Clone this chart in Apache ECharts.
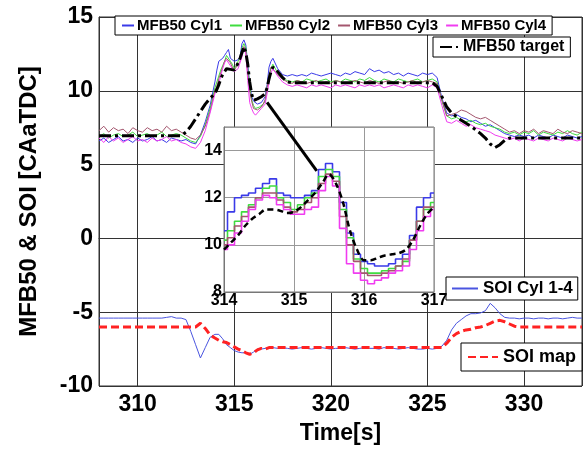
<!DOCTYPE html>
<html><head><meta charset="utf-8">
<script src="https://cdn.jsdelivr.net/npm/echarts@6/dist/echarts.min.js"></script>
<style>html,body{margin:0;padding:0;background:#fff}#c{width:585px;height:450px}</style>
</head><body><div id="c"></div>
<script>
// time stamps [s]
const time = [308,308.25,308.5,308.75,309,309.25,309.5,309.75,310,310.25,310.5,310.75,311,311.25,311.5,311.75,312,312.25,312.5,312.75,313,313.25,313.5,313.75,
314,314.1,314.2,314.3,314.4,314.5,314.6,314.7,314.8,314.9,315,315.1,315.2,315.3,315.4,315.5,315.6,315.7,315.8,315.9,316,316.1,316.2,316.3,316.4,316.5,316.6,316.7,316.8,316.9,317,
317.25,317.5,317.75,318,318.25,318.5,318.75,319,319.25,319.5,319.75,320,320.25,320.5,320.75,321,321.25,321.5,321.75,322,322.25,322.5,322.75,323,323.25,323.5,323.75,324,324.25,324.5,324.75,325,325.25,325.5,325.75,326,326.25,326.5,326.75,327,327.25,327.5,327.75,328,328.25,328.5,328.75,329,329.25,329.5,329.75,330,330.25,330.5,330.75,331,331.25,331.5,331.75,332,332.25,332.5,332.75,333];

const mfb50Cyl1 = [6.6,6.8,6.5,6.7,6.9,6.6,6.7,6.5,6.8,6.6,6.7,6.9,6.6,6.7,6.5,6.8,6.7,6.6,6.7,6.5,6.4,7.0,7.9,9.0,
10.6,11.4,12.0,12.1,12.2,12.4,12.6,12.8,12.2,12.1,12.0,12.0,12.1,12.3,13.2,13.45,13.1,11.8,10.5,9.6,9.3,9.2,9.1,9.1,9.2,9.4,9.6,10.4,11.6,12.0,12.2,
11.5,11.1,11.0,11.1,11.0,11.1,11.0,11.2,11.1,11.0,11.1,11.2,11.1,11.0,11.2,11.1,11.3,11.2,11.1,11.5,11.3,11.4,11.2,11.3,11.1,11.2,11.0,11.2,11.1,11.0,11.2,11.1,11.2,10.9,9.5,8.5,8.3,8.4,8.2,8.1,7.9,8.0,7.8,7.6,7.7,7.5,7.3,7.1,7.0,6.9,7.0,6.9,7.0,6.8,7.0,6.9,6.8,7.0,6.9,6.8,7.0,6.9,6.8,6.9];

const mfb50Cyl2 = [6.9,7.1,6.8,7.0,7.1,6.9,7.0,7.2,6.9,7.0,7.1,6.9,7.0,7.2,6.9,7.0,7.1,7.0,6.8,6.6,6.5,6.9,7.7,8.8,
10.2,10.6,11.0,11.4,11.7,12.0,12.4,12.5,12.0,11.8,11.5,11.7,12.0,12.2,12.9,13.2,12.9,11.5,10.3,9.4,9.0,8.8,8.8,8.9,9.0,9.1,9.3,10.2,11.0,11.5,11.8,
11.2,10.8,10.7,10.6,10.7,10.6,10.8,10.7,10.6,10.7,10.8,10.6,10.7,10.6,10.8,10.7,10.6,10.8,10.7,10.9,10.7,10.6,10.8,10.7,10.6,10.8,10.7,10.6,10.7,10.8,10.6,10.7,10.8,10.6,9.3,8.3,8.1,8.2,8.0,7.9,8.0,7.8,7.7,7.8,7.6,7.5,7.4,7.2,7.1,7.2,7.0,7.2,7.1,7.3,7.0,7.2,7.1,7.0,7.2,7.1,7.3,7.1,7.0,7.2];

const mfb50Cyl3 = [7.3,7.6,7.2,7.5,7.3,7.4,7.1,7.5,7.3,7.2,7.5,7.3,7.4,7.2,7.6,7.3,7.4,7.2,7.0,6.8,6.7,7.0,7.6,8.6,
10.0,10.3,10.8,11.2,11.6,12.0,12.2,12.2,11.9,11.6,11.4,11.5,11.8,12.0,12.6,13.0,12.7,11.2,10.0,9.3,8.8,8.7,8.7,8.8,8.9,9.1,9.4,10.2,11.0,11.6,11.6,
11.1,10.8,10.6,10.5,10.7,10.6,10.5,10.6,10.7,10.5,10.6,10.5,10.7,10.6,10.5,10.6,10.7,10.6,10.5,10.7,10.6,10.5,10.6,10.7,10.5,10.6,10.5,10.6,10.7,10.5,10.6,10.7,10.6,10.5,9.4,8.3,8.4,8.5,8.7,8.6,8.4,8.2,8.1,8.2,8.0,7.8,7.6,7.4,7.2,7.3,7.1,7.3,7.2,7.4,7.1,7.3,7.2,7.1,7.4,7.2,7.1,7.3,7.2,7.1];

const mfb50Cyl4 = [6.8,6.5,6.9,6.6,6.8,6.5,6.7,6.9,6.6,6.7,6.5,6.8,6.6,6.7,6.9,6.6,6.7,6.5,6.4,6.2,6.1,6.5,7.3,8.5,
9.8,10.0,10.5,11.0,11.5,11.9,12.1,12.0,11.7,11.5,11.3,11.3,11.5,11.6,12.3,12.9,12.5,10.7,9.2,8.8,8.5,8.35,8.5,8.6,8.8,8.9,9.1,9.8,10.6,11.2,11.5,
11.0,10.6,10.4,10.3,10.4,10.3,10.2,10.4,10.3,10.4,10.3,10.2,10.4,10.3,10.4,10.3,10.2,10.4,10.3,10.4,10.3,10.4,10.2,10.3,10.4,10.3,10.2,10.4,10.3,10.4,10.3,10.2,10.4,10.2,9.0,7.9,7.8,8.0,7.8,7.6,7.7,7.5,7.4,7.3,7.2,7.0,6.9,6.8,6.7,6.8,6.6,6.8,6.7,6.6,6.8,6.7,6.6,6.8,6.7,6.6,6.8,6.7,6.6,6.7];

const mfb50Target = [6.95,6.95,6.95,6.95,6.95,6.95,6.95,6.95,6.95,6.95,6.95,6.95,6.95,6.95,6.95,6.95,6.95,6.95,7.2,7.6,8.1,8.6,9.1,9.5,
9.8,10.1,10.4,10.8,11.1,11.3,11.5,11.5,11.45,11.35,11.4,11.6,11.9,12.2,12.6,13.0,12.6,11.8,10.6,9.8,9.35,9.35,9.45,9.55,9.6,9.65,9.8,10.2,10.8,11.3,11.6,
11.3,10.9,10.6,10.55,10.55,10.55,10.55,10.55,10.55,10.55,10.55,10.55,10.55,10.55,10.55,10.55,10.55,10.55,10.55,10.55,10.55,10.55,10.55,10.55,10.55,10.55,10.55,10.55,10.55,10.55,10.55,10.55,10.55,10.3,9.6,8.9,8.5,8.25,8.0,7.8,7.6,7.35,7.1,6.8,6.4,6.15,6.35,6.65,6.8,6.8,6.8,6.8,6.8,6.8,6.8,6.8,6.8,6.8,6.8,6.8,6.8,6.8,6.8,6.8];

const soiCyl = [-5.4,-5.4,-5.4,-5.4,-5.4,-5.4,-5.4,-5.4,-5.4,-5.4,-5.4,-5.4,-5.4,-5.4,-5.35,-5.3,-5.4,-5.4,-5.5,-6.3,-7.2,-8.1,-7.4,-6.7,
-6.5,-6.45,-6.5,-6.55,-6.8,-7.0,-7.2,-7.3,-7.4,-7.5,-7.6,-7.65,-7.7,-7.7,-7.75,-7.8,-7.75,-7.8,-7.85,-7.8,-7.7,-7.6,-7.5,-7.45,-7.5,-7.55,-7.45,-7.4,-7.45,-7.45,-7.4,
-7.45,-7.4,-7.45,-7.5,-7.45,-7.4,-7.45,-7.5,-7.45,-7.4,-7.45,-7.5,-7.45,-7.45,-7.4,-7.45,-7.5,-7.45,-7.4,-7.45,-7.45,-7.5,-7.4,-7.45,-7.45,-7.5,-7.45,-7.4,-7.45,-7.5,-7.5,-7.45,-7.5,-7.45,-7.3,-6.9,-6.2,-5.75,-5.5,-5.25,-5.1,-5.1,-5.05,-4.9,-4.4,-4.7,-5.1,-5.35,-5.4,-5.4,-5.45,-5.4,-5.4,-5.45,-5.4,-5.4,-5.45,-5.4,-5.4,-5.45,-5.4,-5.35,-5.4,-5.4];

const soiMap = [-6,-6,-6,-6,-6,-6,-6,-6,-6,-6,-6,-6,-6,-6,-6,-6,-6,-6,-6,-6,-6,-5.75,-6.1,-6.55,
-6.75,-6.8,-6.9,-6.95,-7.0,-7.05,-7.05,-7.1,-7.2,-7.3,-7.35,-7.4,-7.5,-7.55,-7.6,-7.7,-7.75,-7.8,-7.85,-7.85,-7.75,-7.65,-7.55,-7.5,-7.45,-7.5,-7.5,-7.45,-7.4,-7.4,-7.4,
-7.4,-7.4,-7.4,-7.4,-7.4,-7.4,-7.4,-7.4,-7.4,-7.4,-7.4,-7.4,-7.4,-7.4,-7.4,-7.4,-7.4,-7.4,-7.4,-7.4,-7.4,-7.4,-7.4,-7.4,-7.4,-7.4,-7.4,-7.4,-7.4,-7.4,-7.4,-7.4,-7.4,-7.4,-7.4,-7.1,-6.7,-6.45,-6.3,-6.2,-6.15,-6.05,-6.0,-5.9,-5.75,-5.6,-5.55,-5.65,-5.8,-5.95,-6,-6,-6,-6,-6,-6,-6,-6,-6,-6,-6,-6,-6,-6];

// axes / ticks
const mainXRange = [308, 333];
const mainXTicks = [310, 315, 320, 325, 330];
const mainYTicks = [-10, -5, 0, 5, 10, 15];
const insetXTicks = [314, 315, 316, 317];
const insetYTicks = [8, 10, 12, 14];
const insetYMax = 15;
// zoom arrow annotation (data coords of main axes)
const arrowFrom = [316.7, 9.22];
const arrowTo = [319.27, 4.57];

const FONT = 'Liberation Sans, Arial, sans-serif';
const pairs = arr => time.map((t, i) => [t, arr[i]]);
const insetPairs = arr => time.map((t, i) => [t, arr[i]]).filter(p => p[0] >= insetXTicks[0] && p[0] <= insetXTicks[insetXTicks.length - 1]);

const cylDefs = [
  {name: 'MFB50 Cyl1', data: mfb50Cyl1, color: '#3a3ae8'},
  {name: 'MFB50 Cyl2', data: mfb50Cyl2, color: '#3fdc3f'},
  {name: 'MFB50 Cyl3', data: mfb50Cyl3, color: '#a4566e'},
  {name: 'MFB50 Cyl4', data: mfb50Cyl4, color: '#f03cf0'}
];

const series = [];
cylDefs.forEach(d => series.push({
  name: d.name, type: 'line', xAxisIndex: 0, yAxisIndex: 0, data: pairs(d.data),
  symbol: 'none', z: 2, lineStyle: {color: d.color, width: 1}, itemStyle: {color: d.color}
}));
series.push({
  name: 'MFB50 target', type: 'line', xAxisIndex: 0, yAxisIndex: 0, data: pairs(mfb50Target),
  symbol: 'none', z: 3, lineStyle: {color: '#000', width: 3, type: [12, 4, 3, 4]}, itemStyle: {color: '#000'}
});
series.push({
  name: 'SOI Cyl 1-4', type: 'line', xAxisIndex: 0, yAxisIndex: 0, data: pairs(soiCyl),
  symbol: 'none', z: 2, lineStyle: {color: '#4a55e0', width: 1}, itemStyle: {color: '#4a55e0'}
});
series.push({
  name: 'SOI map', type: 'line', xAxisIndex: 0, yAxisIndex: 0, data: pairs(soiMap),
  symbol: 'none', z: 3, lineStyle: {color: '#ff2222', width: 3, type: [8, 4]}, itemStyle: {color: '#ff2222'}
});
// inset
cylDefs.forEach(d => series.push({
  name: 'inset ' + d.name, type: 'line', xAxisIndex: 1, yAxisIndex: 1, data: insetPairs(d.data),
  symbol: 'none', step: 'middle', z: 7, lineStyle: {color: d.color, width: 1.6}
}));
series.push({
  name: 'inset MFB50 target', type: 'line', xAxisIndex: 1, yAxisIndex: 1, data: insetPairs(mfb50Target),
  symbol: 'none', smooth: 0.3, z: 8, lineStyle: {color: '#000', width: 2.5, type: [6, 4]}
});
// arrow
series.push({
  name: 'arrow', type: 'line', xAxisIndex: 0, yAxisIndex: 0, data: [], z: 20, silent: true,
  markLine: {
    silent: true, z: 30, symbol: ['none', 'arrow'], symbolSize: [0, 18], label: {show: false},
    lineStyle: {color: '#000', width: 3, type: 'solid', opacity: 1},
    itemStyle: {color: '#000'},
    emphasis: {disabled: true},
    data: [[{coord: arrowFrom}, {coord: arrowTo}]]
  }
});

const legendBase = {
  orient: 'horizontal', backgroundColor: '#fff', borderColor: '#000', borderWidth: 1, borderRadius: 0,
  selectedMode: false, itemGap: 8, inactiveColor: '#000',
  itemStyle: {opacity: 0, color: 'rgba(0,0,0,0)', borderWidth: 0}
};

const option = {
  animation: false,
  backgroundColor: '#fff',
  grid: [
    {left: 99, top: 17, width: 483, height: 372, show: true, borderColor: '#333', borderWidth: 1, backgroundColor: 'transparent'},
    {left: 224, top: 127, width: 210, height: 165, show: true, borderColor: '#777', borderWidth: 1, backgroundColor: '#fff', z: 5}
  ],
  xAxis: [
    {
      type: 'value', gridIndex: 0, min: mainXRange[0], max: mainXRange[1],
      minInterval: mainXTicks[1] - mainXTicks[0], maxInterval: mainXTicks[1] - mainXTicks[0], splitNumber: mainXTicks.length,
      name: 'Time[s]', nameLocation: 'middle', nameGap: 36,
      nameTextStyle: {fontFamily: FONT, fontSize: 23, fontWeight: 'bold', color: '#000'},
      axisLine: {show: true, lineStyle: {color: '#333'}}, axisTick: {show: false},
      axisLabel: {fontFamily: FONT, fontSize: 23, fontWeight: 'bold', color: '#000', margin: 7, showMinLabel: false, showMaxLabel: false},
      splitLine: {show: true, lineStyle: {color: '#333', width: 1}}
    },
    {
      type: 'value', gridIndex: 1, min: insetXTicks[0], max: insetXTicks[insetXTicks.length - 1],
      interval: insetXTicks[1] - insetXTicks[0], z: 6,
      axisLine: {show: true, lineStyle: {color: '#777'}}, axisTick: {show: false},
      axisLabel: {fontFamily: FONT, fontSize: 16, fontWeight: 'bold', color: '#000', margin: 1},
      splitLine: {show: true, lineStyle: {color: '#999', width: 1}}
    }
  ],
  yAxis: [
    {
      type: 'value', gridIndex: 0, min: mainYTicks[0], max: mainYTicks[mainYTicks.length - 1],
      interval: mainYTicks[1] - mainYTicks[0],
      name: 'MFB50 & SOI [CAaTDC]', nameLocation: 'middle', nameGap: 58,
      nameTextStyle: {fontFamily: FONT, fontSize: 24, fontWeight: 'bold', color: '#000'},
      axisLine: {show: true, lineStyle: {color: '#333'}}, axisTick: {show: false},
      axisLabel: {fontFamily: FONT, fontSize: 23, fontWeight: 'bold', color: '#000', margin: 6},
      splitLine: {show: true, lineStyle: {color: '#333', width: 1}}
    },
    {
      type: 'value', gridIndex: 1, min: insetYTicks[0], max: insetYMax,
      interval: insetYTicks[1] - insetYTicks[0], z: 6,
      axisLine: {show: true, lineStyle: {color: '#777'}}, axisTick: {show: false},
      axisLabel: {fontFamily: FONT, fontSize: 16, fontWeight: 'bold', color: '#000', margin: 2, showMaxLabel: false},
      splitLine: {show: true, lineStyle: {color: '#999', width: 1}}
    }
  ],
  legend: [
    Object.assign({}, legendBase, {
      data: cylDefs.map(d => d.name), left: 115, top: 16, padding: [2, 6], itemWidth: 12, itemHeight: 10, itemGap: 7,
      textStyle: {fontFamily: FONT, fontSize: 15, fontWeight: 'bold', color: '#000', padding: [0, 0, 0, -2]}
    }),
    Object.assign({}, legendBase, {
      data: ['MFB50 target'], left: 433, top: 37, padding: [2, 6], itemWidth: 18, itemHeight: 10,
      textStyle: {fontFamily: FONT, fontSize: 16, fontWeight: 'bold', color: '#000'}
    }),
    Object.assign({}, legendBase, {
      data: ['SOI Cyl 1-4'], left: 446, top: 277, padding: [3, 5], itemWidth: 26, itemHeight: 10,
      textStyle: {fontFamily: FONT, fontSize: 17, fontWeight: 'bold', color: '#000'}
    }),
    Object.assign({}, legendBase, {
      data: ['SOI map'], left: 461, top: 343, padding: [5, 6], itemWidth: 30, itemHeight: 10,
      textStyle: {fontFamily: FONT, fontSize: 18, fontWeight: 'bold', color: '#000'}
    })
  ],
  series: series
};

const chart = echarts.init(document.getElementById('c'), null, {renderer: 'canvas'});
chart.setOption(option);
</script>
</body></html>
